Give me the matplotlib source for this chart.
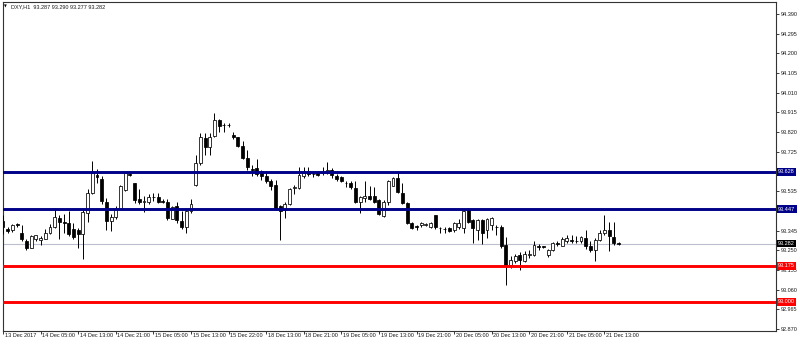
import matplotlib
matplotlib.use("Agg")
import matplotlib.pyplot as plt
import numpy as np

# ---------------- data ----------------
symbol_header = "DXY,H1  93.287 93.290 93.277 93.282"

opens = [93.390, 93.354, 93.346, 93.375, 93.332, 93.295, 93.263, 93.303, 93.298, 93.306,
         93.335, 93.364, 93.407, 93.386, 93.380, 93.354, 93.348, 93.327, 93.428, 93.524,
         93.612, 93.594, 93.482, 93.391, 93.412, 93.450, 93.540, 93.620, 93.572, 93.495,
         93.485, 93.484, 93.506, 93.508, 93.486, 93.482, 93.402, 93.463, 93.391, 93.364,
         93.439, 93.566, 93.670, 93.790, 93.750, 93.801, 93.878, 93.855, 93.853, 93.806,
         93.795, 93.753, 93.694, 93.640, 93.646, 93.630, 93.609, 93.586, 93.566, 93.461,
         93.442, 93.474, 93.551, 93.550, 93.609, 93.630, 93.619, 93.625, 93.625, 93.625,
         93.638, 93.609, 93.602, 93.576, 93.574, 93.550, 93.485, 93.502, 93.513, 93.510,
         93.490, 93.413, 93.481, 93.561, 93.598, 93.526, 93.477, 93.381, 93.366, 93.370,
         93.374, 93.364, 93.420, 93.357, 93.352, 93.356, 93.348, 93.364, 93.356, 93.444,
         93.396, 93.348, 93.396, 93.348, 93.372, 93.362, 93.364, 93.276, 93.179, 93.196,
         93.226, 93.196, 93.226, 93.228, 93.271, 93.268, 93.228, 93.252, 93.287, 93.271,
         93.296, 93.297, 93.296, 93.296, 93.308, 93.268, 93.252, 93.300, 93.332, 93.348,
         93.316, 93.287]
highs = [93.418, 93.364, 93.378, 93.380, 93.370, 93.303, 93.324, 93.325, 93.319, 93.351,
         93.375, 93.455, 93.418, 93.423, 93.439, 93.383, 93.359, 93.447, 93.543, 93.679,
         93.642, 93.607, 93.503, 93.423, 93.463, 93.567, 93.628, 93.623, 93.575, 93.543,
         93.514, 93.519, 93.527, 93.527, 93.495, 93.498, 93.463, 93.485, 93.439, 93.442,
         93.495, 93.711, 93.814, 93.814, 93.814, 93.913, 93.881, 93.865, 93.865, 93.822,
         93.798, 93.779, 93.734, 93.662, 93.689, 93.638, 93.630, 93.593, 93.590, 93.469,
         93.485, 93.550, 93.566, 93.654, 93.654, 93.654, 93.630, 93.634, 93.654, 93.678,
         93.646, 93.618, 93.609, 93.586, 93.582, 93.582, 93.510, 93.582, 93.561, 93.554,
         93.497, 93.493, 93.590, 93.602, 93.625, 93.574, 93.481, 93.384, 93.373, 93.388,
         93.383, 93.388, 93.420, 93.364, 93.364, 93.364, 93.388, 93.402, 93.444, 93.452,
         93.399, 93.399, 93.399, 93.404, 93.409, 93.372, 93.372, 93.316, 93.220, 93.232,
         93.239, 93.244, 93.252, 93.292, 93.280, 93.271, 93.255, 93.290, 93.292, 93.316,
         93.324, 93.324, 93.319, 93.319, 93.348, 93.292, 93.308, 93.348, 93.420, 93.388,
         93.388, 93.290]
lows = [93.327, 93.332, 93.338, 93.364, 93.295, 93.250, 93.260, 93.295, 93.275, 93.303,
        93.327, 93.359, 93.303, 93.332, 93.319, 93.303, 93.263, 93.207, 93.386, 93.519,
        93.575, 93.471, 93.348, 93.343, 93.399, 93.447, 93.535, 93.610, 93.479, 93.471,
        93.434, 93.471, 93.487, 93.479, 93.479, 93.396, 93.399, 93.383, 93.351, 93.335,
        93.431, 93.562, 93.662, 93.710, 93.710, 93.798, 93.822, 93.822, 93.846, 93.785,
        93.750, 93.689, 93.638, 93.609, 93.609, 93.590, 93.574, 93.542, 93.445, 93.301,
        93.405, 93.469, 93.522, 93.545, 93.598, 93.606, 93.602, 93.606, 93.614, 93.618,
        93.598, 93.586, 93.577, 93.554, 93.545, 93.477, 93.429, 93.485, 93.490, 93.477,
        93.421, 93.410, 93.469, 93.558, 93.526, 93.474, 93.378, 93.352, 93.349, 93.364,
        93.367, 93.356, 93.351, 93.335, 93.335, 93.340, 93.340, 93.351, 93.332, 93.380,
        93.287, 93.300, 93.282, 93.308, 93.348, 93.324, 93.260, 93.083, 93.163, 93.188,
        93.155, 93.191, 93.212, 93.223, 93.252, 93.260, 93.216, 93.248, 93.268, 93.268,
        93.284, 93.287, 93.284, 93.287, 93.255, 93.239, 93.196, 93.292, 93.324, 93.246,
        93.276, 93.277]
closes = [93.360, 93.343, 93.370, 93.372, 93.303, 93.263, 93.319, 93.322, 93.308, 93.332,
          93.364, 93.412, 93.386, 93.382, 93.327, 93.314, 93.327, 93.434, 93.527, 93.623,
          93.605, 93.487, 93.391, 93.412, 93.450, 93.562, 93.623, 93.613, 93.492, 93.484,
          93.487, 93.508, 93.508, 93.484, 93.484, 93.407, 93.458, 93.396, 93.364, 93.439,
          93.471, 93.670, 93.795, 93.750, 93.798, 93.878, 93.849, 93.853, 93.855, 93.795,
          93.753, 93.694, 93.654, 93.636, 93.618, 93.606, 93.582, 93.561, 93.453, 93.437,
          93.474, 93.545, 93.554, 93.614, 93.625, 93.618, 93.617, 93.614, 93.626, 93.638,
          93.614, 93.593, 93.582, 93.573, 93.554, 93.485, 93.506, 93.513, 93.497, 93.485,
          93.426, 93.481, 93.582, 93.598, 93.529, 93.477, 93.381, 93.357, 93.364, 93.383,
          93.378, 93.380, 93.364, 93.355, 93.350, 93.344, 93.380, 93.383, 93.441, 93.388,
          93.356, 93.396, 93.332, 93.399, 93.404, 93.360, 93.268, 93.179, 93.204, 93.223,
          93.204, 93.232, 93.232, 93.276, 93.264, 93.267, 93.252, 93.287, 93.279, 93.303,
          93.308, 93.296, 93.295, 93.312, 93.268, 93.252, 93.300, 93.335, 93.348, 93.319,
          93.284, 93.282]

time_labels = ["13 Dec 2017", "14 Dec 05:00", "14 Dec 13:00", "14 Dec 21:00", "15 Dec 05:00",
               "15 Dec 13:00", "15 Dec 22:00", "18 Dec 13:00", "18 Dec 21:00", "19 Dec 05:00",
               "19 Dec 13:00", "19 Dec 21:00", "20 Dec 05:00", "20 Dec 13:00", "20 Dec 21:00",
               "21 Dec 05:00", "21 Dec 13:00"]
time_label_bars = [0, 8, 16, 24, 32, 40, 48, 56, 64, 72, 80, 88, 96, 104, 112, 120, 128]

price_ticks = [94.390, 94.295, 94.200, 94.105, 94.010, 93.915, 93.820, 93.725, 93.630,
               93.535, 93.440, 93.345, 93.250, 93.155, 93.060, 92.965, 92.870]
# tick labels hidden behind the level boxes in the reference
hidden_tick_labels = [93.630, 93.440]

resistance_levels = [93.628, 93.447]
support_levels = [93.175, 93.000]
current_price = 93.282

# ---------------- drawing ----------------
FONT = ["Liberation Sans", "DejaVu Sans"]
FS = 4.0
TXT = "#1a1a1a"
plt.rcParams["font.family"] = FONT

W, H = 800, 344
fig = plt.figure(figsize=(W / 100, H / 100), dpi=100)
left_px, right_px, top_px, bot_px = 3, 776, 2, 331
ax = fig.add_axes([left_px / W, 1 - bot_px / H, (right_px - left_px) / W, (bot_px - top_px) / H])

o = np.array(opens); h = np.array(highs); l = np.array(lows); c = np.array(closes)
x = np.arange(len(o))

# wicks
ax.vlines(x, l, h, color="black", linewidth=0.7, zorder=3)
# bodies
bull = c >= o
bottom = np.minimum(o, c)
height = np.maximum(np.abs(c - o), 0.0015)
ax.bar(x[bull], height[bull], bottom=bottom[bull], width=0.62,
       facecolor="white", edgecolor="black", linewidth=0.55, zorder=4)
ax.bar(x[~bull], height[~bull], bottom=bottom[~bull], width=0.62,
       facecolor="black", edgecolor="black", linewidth=0.55, zorder=4)

# horizontal levels
ax.axhline(current_price, color="#b9bfcc", linewidth=0.8, zorder=2)
for lv in resistance_levels:
    ax.axhline(lv, color="#000088", linewidth=2.1, zorder=5)
for lv in support_levels:
    ax.axhline(lv, color="#ff0000", linewidth=2.1, zorder=5)

ax.set_xlim(0.05, 164.5)
ax.set_ylim(92.860, 94.448)

# y axis on right
ax.yaxis.tick_right()
ax.set_yticks(price_ticks)
ax.set_yticklabels(["" if any(abs(v - hv) < 1e-6 for hv in hidden_tick_labels) else f"{v:.3f}"
                    for v in price_ticks], fontsize=FS, color=TXT)
ax.tick_params(axis="y", length=2.2, width=0.6, pad=1.0, colors=TXT)

# x axis: ticks with left-aligned labels
ax.set_xticks(time_label_bars)
ax.set_xticklabels([])
ax.tick_params(axis="x", length=2.4, width=0.6, colors=TXT)
for b, lab in zip(time_label_bars, time_labels):
    ax.text(b + 0.35, -0.006, lab, transform=ax.get_xaxis_transform(),
            ha="left", va="top", fontsize=FS, color=TXT)

for s in ax.spines.values():
    s.set_color("#333333")
    s.set_linewidth(0.8)

# level labels on the price axis
def level_label(val, bg):
    ax.annotate(f"{val:.3f}", xy=(1.0, val), xycoords=("axes fraction", "data"),
                xytext=(1.4, 0), textcoords="offset points", ha="left", va="center",
                fontsize=FS, color="white", zorder=10, annotation_clip=False,
                bbox=dict(boxstyle="square,pad=0.25", facecolor=bg, edgecolor="none"))

for lv in resistance_levels:
    level_label(lv, "#000088")
for lv in support_levels:
    level_label(lv, "#ff0000")
level_label(current_price, "#000000")

# header
fig.text(3.5 / W, 1 - 6.5 / H, "\u25BC", fontsize=2.6, family="DejaVu Sans",
         ha="left", va="center", color="black")
fig.text(11 / W, 1 - 6.5 / H, symbol_header, fontsize=FS, ha="left", va="center",
         color=TXT)

fig.savefig("out.png", dpi=100, facecolor="white")
